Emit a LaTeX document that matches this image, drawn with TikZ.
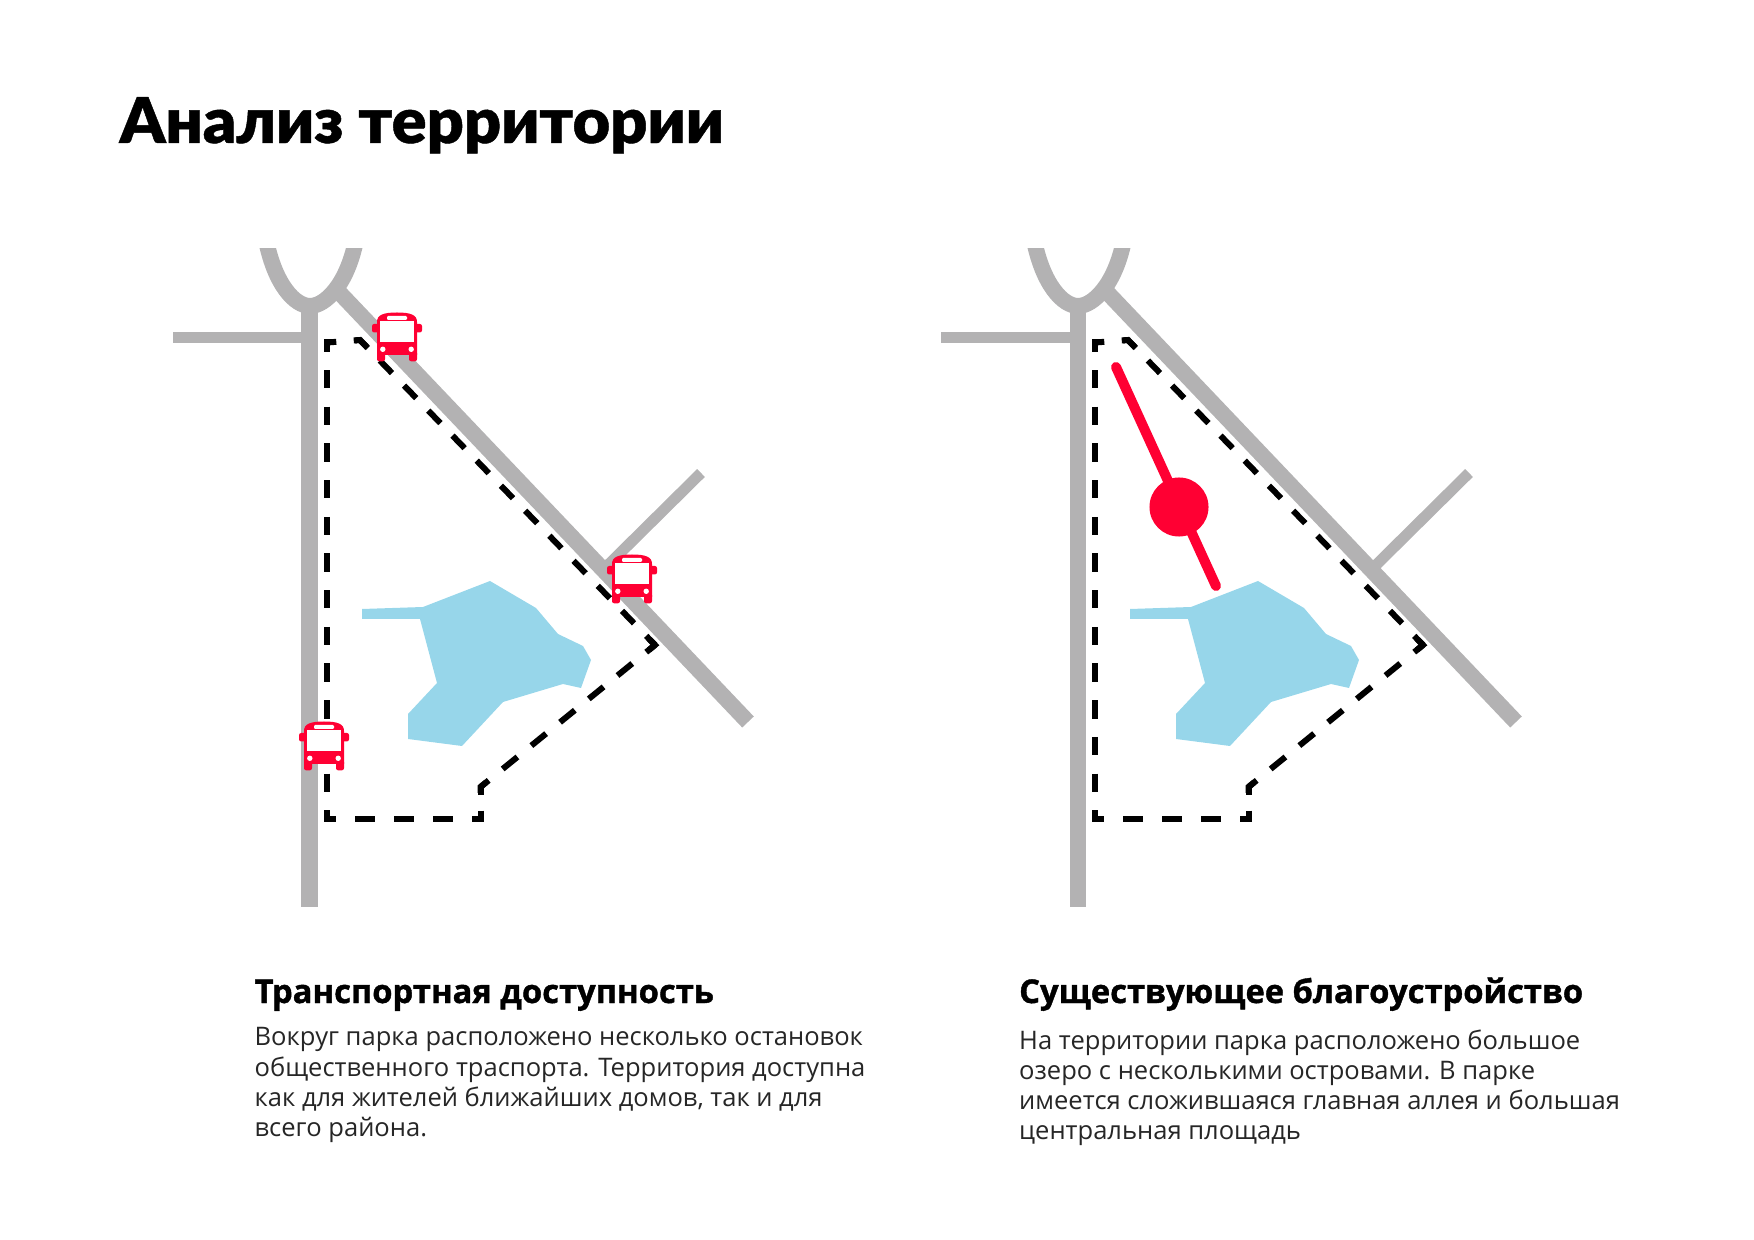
\documentclass[tikz,border=0pt]{standalone}
\usepackage{fontspec}
\setmainfont{Open Sans}
\newfontfamily\titlefont[FakeBold=0.7,FakeStretch=1.03]{Lato Black}
\newfontfamily\headfont[BoldFeatures={FakeBold=1.2}]{Open Sans}
\usetikzlibrary{positioning}

\definecolor{roadgray}{HTML}{B3B2B3}
\definecolor{lakeblue}{HTML}{97D6EA}
\definecolor{busred}{HTML}{FF0033}

\tikzset{
  road/.style={draw=roadgray,line width=0.16cm},
  sideroad/.style={draw=roadgray,line width=0.11cm},
  border/.style={draw=black,line width=0.06cm,miter limit=10},
  lake/.style={fill=lakeblue},
  headtext/.style={font=\headfont\bfseries\fontsize{9.3}{11}\selectfont,anchor=base west,inner sep=0pt},
  bodytext/.style={font=\fontsize{7.26}{8.6}\selectfont,text=black!85,anchor=north west,align=left,inner sep=0pt},
  bus/.pic={
    \fill[busred] (-20,-15) .. controls (-20,-22) and (-14,-24.5) .. (0,-24.5) .. controls (14,-24.5) and (20,-22) .. (20,-15) -- (20,18) -- (-20,18) -- cycle;
    \fill[busred,rounded corners=0.6pt] (-20,14) rectangle (-12,24.3);
    \fill[busred,rounded corners=0.6pt] (12,14) rectangle (20,24.3);
    \fill[busred,rounded corners=0.6pt] (-25,-13) rectangle (-18,-4.5);
    \fill[busred,rounded corners=0.6pt] (18,-13) rectangle (25,-4.5);
    \fill[white] (-16.7,-16) rectangle (16.7,5);
    \fill[white,rounded corners=0.3pt] (-10,-21) rectangle (10,-17);
    \fill[white] (-14.2,12.3) circle [radius=0.027cm];
    \fill[white] (14.2,12.3) circle [radius=0.027cm];
  }
}

\begin{document}
\begin{tikzpicture}[x=0.01cm,y=-0.01cm]
  \useasboundingbox (0,0) rectangle (1754,1240);

  \node[font=\titlefont\fontsize{17.9}{22}\selectfont,anchor=base west,inner sep=0pt] (title) at (119,143) {Анализ территории};

  % both site plans
  \foreach \dx in {0,768} {
    \begin{scope}[xshift=\dx*0.01cm]
      \begin{scope}
        \clip (200,249) rectangle (420,400);
        \draw[road] (266,240) .. controls (275,285) and (295,306) .. (310,306) .. controls (325,306) and (347,285) .. (356,240);
      \end{scope}
      \draw[road] (309.5,306) -- (309.5,907);
      \draw[sideroad] (173,338) -- (310,338);
      \draw[road] (336,289) -- (748,722);
      \draw[sideroad] (607,566) -- (701,473);
      \fill[lake] (362,609) -- (423,607) -- (490,581) -- (536,608) -- (558,634) -- (583,646) -- (591,660) -- (581,688) -- (563,684) -- (503,702) -- (462,746) -- (408,739) -- (408,714) -- (437,683) -- (420,619) -- (362,619) -- cycle;
      % every side of the park has its own dash rhythm
      \draw[border,dash pattern=on 0.1833cm off 0.1833cm,dash phase=0.0913cm] (327.3,342.5) -- (327.3,819);
      \draw[border,dash pattern=on 0.09cm off 0.175cm on 0.2cm off 0.2cm] (327.3,342.5) -- (360,340);
      \draw[border,dash pattern=on 0.174cm off 0.174cm,dash phase=0.062cm] (360,340) -- (655,645);
      \draw[border,dash pattern=on 0.19cm off 0.18cm,dash phase=0.077cm] (655,645) -- (480.5,787);
      \draw[border,dash pattern=on 0.08cm off 0.157cm on 0.2cm off 0.2cm] (480.5,787) -- (480.5,819);
      \draw[border,dash pattern=on 0.197cm off 0.193cm,dash phase=0.115cm] (480.5,819) -- (327.3,819);
      % corners
      \draw[border] (327.3,349) -- (327.3,342.5) -- (334,342.5);
      \draw[border] (355,340.4) -- (360,340) -- (367,347.3);
      \draw[border] (649.5,639.3) -- (655,645) -- (649,650);
      \draw[border] (486,782.5) -- (480.5,787) -- (480.5,793);
      \draw[border] (480.5,813) -- (480.5,819) -- (474,819);
      \draw[border] (327.3,813) -- (327.3,819) -- (334,819);
    \end{scope}
  }

  % bus stops
  \pic at (397,337) {bus};
  \pic at (632,579) {bus};
  \pic at (324,746) {bus};

  % main alley and square
  \draw[busred,line width=0.1cm,line cap=round] (1116,367) -- (1216,586);
  \fill[busred] (1179,507) circle [radius=0.295cm];

  \node[headtext] (headtransport) at (254,1003) {Транспортная доступность};
  \node[bodytext] (texttransport) at (254,1027) {Вокруг парка расположено несколько остановок\\общественного траспорта. Территория доступна\\как для жителей ближайших домов, так и для\\всего района.};

  \node[headtext] (headimprovement) at (1018.5,1003) {Существующее благоустройство};
  \node[bodytext] (textimprovement) at (1018.5,1029) {На территории парка расположено большое\\озеро с несколькими островами. В парке\\имеется сложившаяся главная аллея и большая\\центральная площадь};
\end{tikzpicture}
\end{document}
